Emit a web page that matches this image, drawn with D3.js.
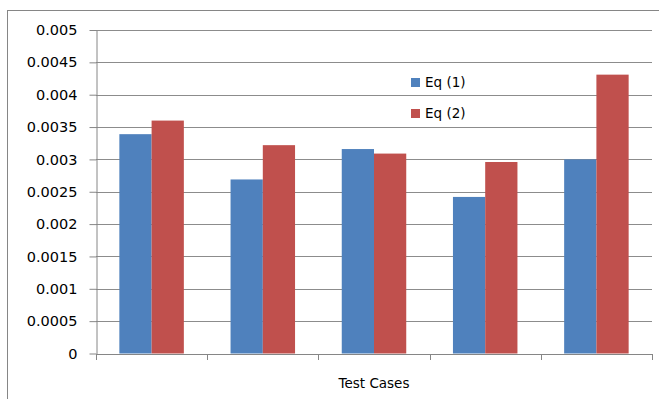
<!DOCTYPE html>
<html><head><meta charset="utf-8">
<script src="https://cdn.jsdelivr.net/npm/d3@7"></script>
<style>body{margin:0;background:#fff}svg{display:block}</style>
</head><body>
<script>
const categories = ["1","2","3","4","5"];
const seriesNames = ["Eq (1)","Eq (2)"];
const eq1 = [0.00339,0.00269,0.00316,0.00242,0.00300];
const eq2 = [0.00360,0.00322,0.00309,0.00296,0.00431];
const yTicks = [0,0.0005,0.001,0.0015,0.002,0.0025,0.003,0.0035,0.004,0.0045,0.005];
const yTickLabels = ["0","0.0005","0.001","0.0015","0.002","0.0025","0.003","0.0035","0.004","0.0045","0.005"];
const colors = ["#4F81BD","#C0504D"];

(function(){
const W=659,H=399;
const mLeft=96,mRight=652,mTop=30,mBottom=353.5;
const font="DejaVu Sans";
const svg=d3.select("body").append("svg").attr("width",W).attr("height",H);
svg.append("rect").attr("x",7.5).attr("y",10.5).attr("width",700).attr("height",420)
  .attr("fill","#fff").attr("stroke","#868686");

const x0=d3.scaleBand().domain(categories).range([mLeft,mRight]).paddingInner(0.42).paddingOuter(0.21);
const x1=d3.scaleBand().domain(seriesNames).range([0,x0.bandwidth()]);
const y=d3.scaleLinear().domain([0,0.005]).range([mBottom,mTop]);

// gridlines
svg.append("g").selectAll("line").data(yTicks.slice(1)).join("line")
  .attr("x1",mLeft).attr("x2",mRight).attr("y1",d=>Math.round(y(d))+0.5).attr("y2",d=>Math.round(y(d))+0.5)
  .attr("stroke","#8c8c8c").attr("stroke-width",1);

// bars
const data=categories.map((c,i)=>({c,vals:[eq1[i],eq2[i]]}));
svg.append("g").selectAll("g").data(data).join("g")
  .attr("transform",d=>`translate(${x0(d.c)},0)`)
  .selectAll("rect").data(d=>d.vals.map((v,j)=>({v,s:seriesNames[j],j}))).join("rect")
  .attr("x",d=>x1(d.s)).attr("width",x1.bandwidth())
  .attr("y",d=>y(d.v)).attr("height",d=>mBottom-y(d.v))
  .attr("fill",d=>colors[d.j]);

// y axis
const yAxis=d3.axisLeft(y).tickValues(yTicks).tickFormat((d,i)=>yTickLabels[i]).tickSize(7).tickSizeOuter(0);
const gy=svg.append("g").attr("transform",`translate(${mLeft+0.5},0)`).call(yAxis);
gy.selectAll("line,path").attr("stroke","#868686");
gy.selectAll("text").attr("font-family",font).attr("font-size","14.5px").attr("fill","#000").attr("x",-19);

// x axis
const catTicks=categories.map(c=>x0(c)-x0.step()*x0.paddingInner()/2);
catTicks.push(mRight);
const gx=svg.append("g");
gx.append("line").attr("x1",mLeft).attr("x2",mRight).attr("y1",Math.round(mBottom)+0.5).attr("y2",Math.round(mBottom)+0.5).attr("stroke","#868686");
gx.selectAll("line.t").data(catTicks).join("line").attr("class","t")
  .attr("x1",d=>Math.round(d)+0.5).attr("x2",d=>Math.round(d)+0.5)
  .attr("y1",Math.round(mBottom)).attr("y2",Math.round(mBottom)+6).attr("stroke","#868686");

svg.append("text").attr("x",(mLeft+mRight)/2).attr("y",388).attr("text-anchor","middle")
  .attr("font-family",font).attr("font-size","13.5px").text("Test Cases");

// legend
const lg=svg.append("g").selectAll("g").data(seriesNames).join("g")
  .attr("transform",(d,i)=>`translate(411,${78+i*31})`);
lg.append("rect").attr("width",9).attr("height",9).attr("fill",(d,i)=>colors[i]);
lg.append("text").attr("x",14).attr("y",9).attr("font-family",font).attr("font-size","13.5px").text(d=>d);
})();
</script>
</body></html>
